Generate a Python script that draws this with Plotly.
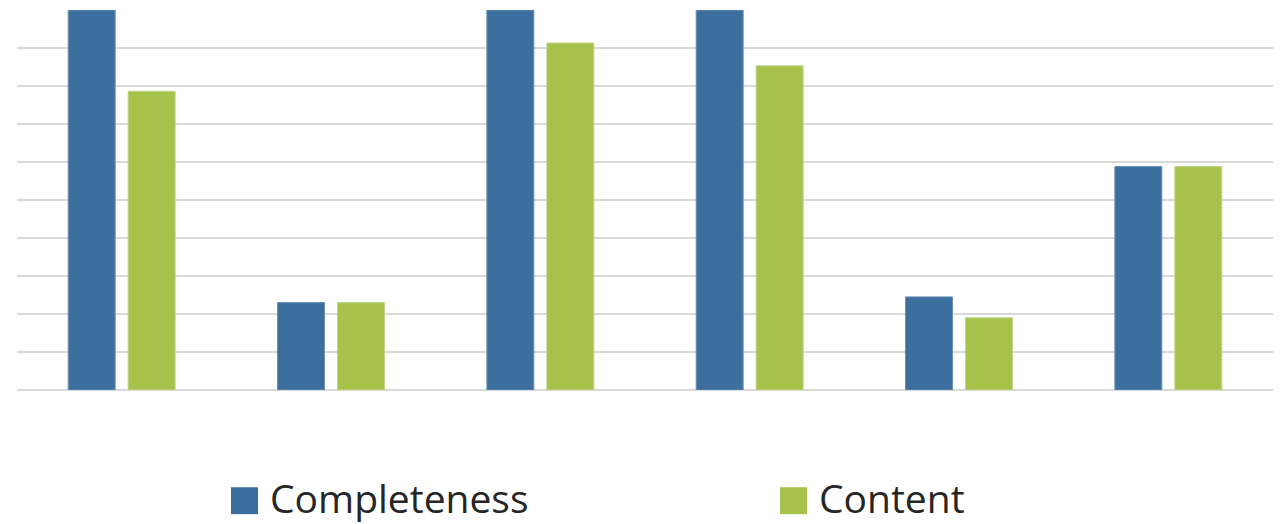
import plotly.graph_objects as go

categories = ["A", "B", "C", "D", "E", "F"]
series_names = ["Completeness", "Content"]
completeness = [1.0, 0.23, 1.0, 1.0, 0.245, 0.588]
content = [0.786, 0.23, 0.913, 0.853, 0.19, 0.588]
colors = ["#3C6F9E", "#A6C24A"]
edge_colors = ["#6A90B8", "#BFD488"]

W, H = 1281, 524
L, R, T, B = 17, 8, 9.5, 133.5
pw, ph = W - L - R, H - T - B

def px_x(x):
    return (x - L) / pw

def px_y(y):
    return (H - B - y) / ph

fig = go.Figure()
for name, vals, c, ec in zip(series_names, [completeness, content], colors, edge_colors):
    fig.add_trace(go.Bar(x=categories, y=vals, name=name, marker=dict(color=c, line=dict(color=ec, width=1)),
                         showlegend=False))

# custom legend
leg_sq_x = [231, 780]
leg_txt_x = [269, 818]
for i, name in enumerate(series_names):
    fig.add_shape(type="rect", xref="paper", yref="paper",
                  x0=px_x(leg_sq_x[i]), x1=px_x(leg_sq_x[i] + 27),
                  y0=px_y(488), y1=px_y(515),
                  fillcolor=colors[i], line=dict(width=0))
    fig.add_annotation(text=name, xref="paper", yref="paper", x=px_x(leg_txt_x[i]), y=px_y(498),
                       xanchor="left", yanchor="middle", showarrow=False, borderpad=0,
                       font=dict(family="Open Sans", size=39, color="#262626"))

fig.update_layout(
    width=W, height=H,
    margin=dict(l=L, r=R, t=T, b=B),
    paper_bgcolor="white", plot_bgcolor="white",
    barmode="group", bargap=0.427, bargroupgap=0.217,
    xaxis=dict(showticklabels=False, showgrid=False, zeroline=False, showline=False, ticks=""),
    yaxis=dict(range=[0, 1.0], dtick=0.1, showticklabels=False, showgrid=True,
               gridcolor="#D9D9D9", gridwidth=2, zeroline=True, zerolinecolor="#D9D9D9",
               zerolinewidth=2, showline=False, ticks=""),
)
fig.write_html("out.html")
